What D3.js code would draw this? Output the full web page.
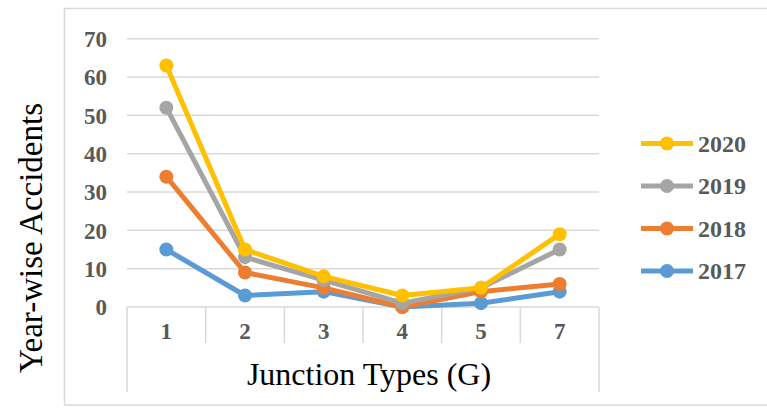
<!DOCTYPE html>
<html>
<head>
<meta charset="utf-8">
<script src="https://cdn.jsdelivr.net/npm/d3@7"></script>
<style>
  html, body { margin: 0; padding: 0; background: #fff; }
  svg { display: block; }
</style>
</head>
<body>
<svg id="chart" width="767" height="408"></svg>
<script>
// Junction types on the horizontal axis
const categories = ["1", "2", "3", "4", "5", "7"];
// Accidents per year for each junction type
const years = ["2017", "2018", "2019", "2020"];
const values2017 = [15, 3, 4, 0, 1, 4];
const values2018 = [34, 9, 5, 0, 4, 6];
const values2019 = [52, 13, 7, 1, 5, 15];
const values2020 = [63, 15, 8, 3, 5, 19];
const yTicks = [0, 10, 20, 30, 40, 50, 60, 70];
const colors = ["#5B9BD5", "#ED7D31", "#A5A5A5", "#FFC000"];

const series = years.map((y, i) => ({
  name: y,
  values: [values2017, values2018, values2019, values2020][i],
  color: colors[i]
}));

const svg = d3.select("#chart");
const serif = "'Liberation Serif', 'Times New Roman', serif";
const gridColor = "#d9d9d9";
const labelColor = "#595959";

const plot = { left: 127, right: 599, top: 38.7, bottom: 307 };

const x = d3.scaleBand().domain(categories).range([plot.left, plot.right]).padding(0);
const y = d3.scaleLinear().domain([0, 70]).range([plot.bottom, plot.top]);

// Chart frame
svg.append("rect")
  .attr("x", 64.5).attr("y", 8.5)
  .attr("width", 720).attr("height", 396.5)
  .attr("fill", "none").attr("stroke", gridColor).attr("stroke-width", 1.5);

// Horizontal gridlines
svg.append("g")
  .selectAll("line")
  .data(yTicks.filter(t => t > 0))
  .join("line")
  .attr("x1", plot.left).attr("x2", plot.right)
  .attr("y1", d => y(d)).attr("y2", d => y(d))
  .attr("stroke", gridColor).attr("stroke-width", 1.5);

// Y tick labels
const yAxis = d3.axisLeft(y).tickValues(yTicks).tickSize(0).tickPadding(0);
const gy = svg.append("g").attr("transform", `translate(${plot.left - 20},0)`).call(yAxis);
gy.select(".domain").remove();
gy.selectAll("text")
  .attr("font-family", serif).attr("font-size", 23).attr("font-weight", "bold")
  .attr("fill", labelColor).attr("dy", "0.34em");

// Category axis: baseline, separators and labels
svg.append("line")
  .attr("x1", plot.left).attr("x2", plot.right)
  .attr("y1", plot.bottom).attr("y2", plot.bottom)
  .attr("stroke", gridColor).attr("stroke-width", 1.5);

const bounds = categories.map(c => x(c)).concat([x(categories[categories.length - 1]) + x.bandwidth()]);
svg.append("g")
  .selectAll("line")
  .data(bounds)
  .join("line")
  .attr("x1", d => d).attr("x2", d => d)
  .attr("y1", plot.bottom)
  .attr("y2", (d, i) => (i === 0 || i === bounds.length - 1) ? 392 : 343)
  .attr("stroke", gridColor).attr("stroke-width", 1.5);

const xAxis = d3.axisBottom(x).tickSize(0).tickPadding(0);
const gx = svg.append("g").attr("transform", `translate(0,${plot.bottom + 32})`).call(xAxis);
gx.select(".domain").remove();
gx.selectAll("text")
  .attr("font-family", serif).attr("font-size", 23).attr("font-weight", "bold")
  .attr("fill", labelColor).attr("dy", 0);

// Axis titles
svg.append("text")
  .attr("x", (plot.left + plot.right) / 2 + 6).attr("y", 385)
  .attr("text-anchor", "middle")
  .attr("font-family", serif).attr("font-size", 32).attr("fill", "#000")
  .text("Junction Types (G)");

svg.append("text")
  .attr("transform", "translate(41.5,238) rotate(-90)")
  .attr("text-anchor", "middle")
  .attr("font-family", serif).attr("font-size", 33).attr("fill", "#000")
  .text("Year-wise Accidents");

// Lines with markers
const cx = c => x(c) + x.bandwidth() / 2;
const line = d3.line().x((d, i) => cx(categories[i])).y(d => y(d));

const gs = svg.append("g").selectAll("g").data(series).join("g");
gs.append("path")
  .attr("d", d => line(d.values))
  .attr("fill", "none").attr("stroke", d => d.color)
  .attr("stroke-width", 5).attr("stroke-linejoin", "round").attr("stroke-linecap", "round");
gs.each(function(s) {
  d3.select(this).selectAll("circle")
    .data(s.values)
    .join("circle")
    .attr("cx", (d, i) => cx(categories[i]))
    .attr("cy", d => y(d))
    .attr("r", 7)
    .attr("fill", s.color);
});

// Legend, newest year first
const legend = svg.append("g").selectAll("g")
  .data(series.slice().reverse())
  .join("g")
  .attr("transform", (d, i) => `translate(0,${143.5 + i * 42.5})`);
legend.append("line")
  .attr("x1", 641).attr("x2", 693).attr("y1", 0).attr("y2", 0)
  .attr("stroke", d => d.color).attr("stroke-width", 5);
legend.append("circle")
  .attr("cx", 667).attr("cy", 0).attr("r", 7)
  .attr("fill", d => d.color);
legend.append("text")
  .attr("x", 698).attr("y", 0).attr("dy", "0.34em")
  .attr("font-family", serif).attr("font-size", 24).attr("font-weight", "bold")
  .attr("fill", labelColor)
  .text(d => d.name);
</script>
</body>
</html>
